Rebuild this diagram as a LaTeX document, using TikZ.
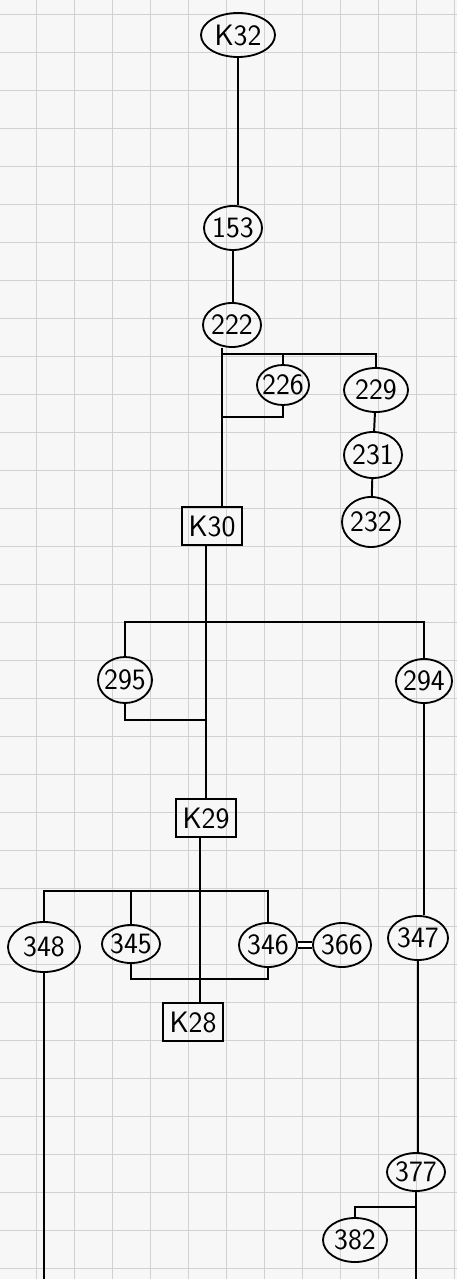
\documentclass[tikz,border=0pt]{standalone}
\usepackage{tikz}
\usetikzlibrary{shapes.geometric, positioning, calc}
\tikzstyle{vertex}    = [line width=1.3pt, draw, ellipse, minimum width=1.45cm, minimum height=1.1cm, inner sep=-4pt, align=center]
\tikzstyle{vertexbox} = [line width=1.3pt, draw, rectangle, minimum width=1.5cm, minimum height=0.95cm, inner sep=0pt, align=center]
\tikzstyle{edge}      = [line width=1.4pt]
\tikzstyle{twinedge}  = [line width=1.2pt, double, double distance=3pt]
\tikzstyle{gridline}  = [black!18, line width=0.7pt]

\begin{document}
\begin{tikzpicture}[
        x=0.025cm,
        y=-0.025cm,
        every node/.style={font=\sffamily\fontsize{21}{23}\selectfont}
    ]

        % Papir s mrizkou
        \fill[black!3] (0,0) rectangle (457,1279);
        \useasboundingbox (0,0) rectangle (457,1279);
        \foreach \gx in {36,74,...,457} {
            \draw[gridline] (\gx,0) -- (\gx,1279);
        }
        \foreach \gy in {14,52,...,1279} {
            \draw[gridline] (0,\gy) -- (457,\gy);
        }

        % Horni cast
        \node[vertex, minimum width=1.85cm] (k32) at (238,35) {K32};
        \node[vertex] (n153) at (233,228) {153};
        \node[vertex] (n222) at (232,325) {222};
        \node[vertex, minimum width=1.3cm, minimum height=1.0cm] (n226) at (283,385) {226};
        \node[vertex, minimum width=1.6cm] (n229) at (376,390) {229};
        \node[vertex, minimum height=1.15cm] (n231) at (373,455) {231};
        \node[vertex, minimum height=1.25cm] (n232) at (371,522) {232};
        \node[vertexbox] (k30) at (212,526) {K30};

        % Prostredni cast
        \node[vertex, minimum width=1.35cm, minimum height=1.15cm] (n295) at (125,680) {295};
        \node[vertex, minimum width=1.4cm] (n294) at (424,681) {294};
        \node[vertexbox] (k29) at (206,818) {K29};

        % Spodni cast
        \node[vertex, minimum width=1.8cm, minimum height=1.25cm] (n348) at (44,947) {348};
        \node[vertex, minimum height=0.95cm] (n345) at (131,944) {345};
        \node[vertex] (n346) at (268,945) {346};
        \node[vertex] (n366) at (342,945) {366};
        \node[vertex, minimum width=1.5cm] (n347) at (418,938) {347};
        \node[vertexbox] (k28) at (193,1022) {K28};
        \node[vertex, minimum height=0.95cm] (n377) at (416,1172) {377};
        \node[vertex, minimum width=1.6cm] (n382) at (355,1240) {382};

        % Uzly vetveni
        \coordinate (j1) at (222,354);
        \coordinate (j2) at (222,417);
        \coordinate (j3) at (206,622);
        \coordinate (j4) at (206,720);
        \coordinate (j5) at (200,891);
        \coordinate (j6) at (200,979);
        \coordinate (j7) at (416,1207);
        \coordinate (e1) at (45,1279);

        % Hlavni vetev
        \draw[edge] (k32.south) -- (k32.south |- n153.north);
        \draw[edge] (n153.south) -- (n153.south |- n222.north);
        \draw[edge] (n222.south -| j1) -- (j1 |- k30.north);
        \draw[edge] (k30.south -| j3) -- (j3 |- k29.north);
        \draw[edge] (k29.south -| j5) -- (j5 |- k28.north);

        % Odbocky u 222
        \draw[edge] (j1) -- (j1 -| n229.north) -- (n229.north);
        \draw[edge] (n226.north) -- (n226.north |- j1);
        \draw[edge] (n226.south) |- (j2);
        \draw[edge] (n229) -- (n231);
        \draw[edge] (n231) -- (n232);

        % Odbocky pod K30
        \draw[edge] (n295.north) -- (n295.north |- j3) -- (j3 -| n294.north) -- (n294.north);
        \draw[edge] (n295.south) |- (j4);
        \draw[edge] (n294.south) -- (n294.south |- n347.north);

        % Odbocky pod K29
        \draw[edge] (n348.north) -- (n348.north |- j5) -- (j5 -| n346.north) -- (n346.north);
        \draw[edge] (n345.north) -- (n345.north |- j5);
        \draw[edge] (n345.south) -- (n345.south |- j6) -| (n346.south);
        \draw[twinedge] (n346) -- (n366);
        \draw[edge] (n348.south) -- (n348.south |- e1);

        % Prava vetev
        \draw[edge] (n347.south) -- (n347.south |- n377.north);
        \draw[edge] (n377.south) -- (n377.south |- e1);
        \draw[edge] (j7) -| (n382.north);

    \end{tikzpicture}
\end{document}
